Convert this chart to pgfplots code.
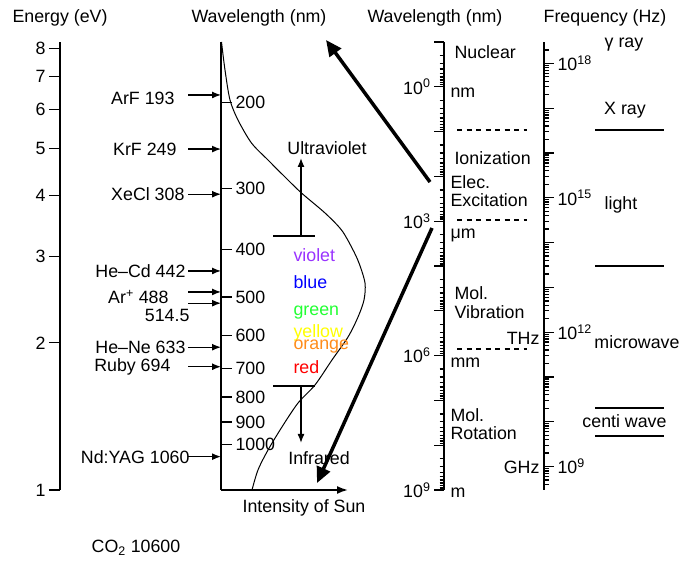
\documentclass[border=0pt]{standalone}
\usepackage{fontspec}
\setmainfont{Liberation Sans}
\usepackage{pgfplots}
\pgfplotsset{compat=1.18}
\usetikzlibrary{arrows.meta}
\newcommand{\fs}{\fontsize{17.8}{18}\selectfont}
\definecolor{cviolet}{HTML}{9933FF}
\definecolor{cblue}{HTML}{0000FF}
\definecolor{cgreen}{HTML}{22FF33}
\definecolor{cyellow}{HTML}{FFFF00}
\definecolor{corange}{HTML}{FF8C1A}
\definecolor{cred}{HTML}{FF0000}
\pgfplotsset{
 vscale/.style={
  scale only axis, height=448pt, width=1pt,
  axis x line=none, clip=false,
  every tick/.style={black, line width=1.3pt},
  tick label style={font=\fs},
  major tick length=11pt, minor tick length=5pt,
  font=\fs,
 },
 noarrow/.style={y axis line style={-, line width=1.8pt}},
}
\begin{document}
\begin{tikzpicture}[font=\fs]
\path[use as bounding box] (0,0) rectangle (681pt,562pt);
% ---------------- main axis: energy (x in px, y in eV) ----------------
\begin{axis}[vscale, at={(60pt,72pt)}, anchor=south west, width=621pt,
  xmin=60, xmax=681, ymode=log, ymin=1, ymax=8.245,
  axis y line=left, tick align=outside, noarrow,
  ytick={1,2,3,4,5,6,7,8}, yticklabels={1,2,3,4,5,6,7,8}, minor ytick={}]
% titles
\node at (axis cs:60,9.23) {Energy (eV)};
\node at (axis cs:259,9.23) {Wavelength (nm)};
\node at (axis cs:435,9.23) {Wavelength (nm)};
\node at (axis cs:605,9.23) {Frequency (Hz)};
% intensity of sun axis
\addplot[black, line width=1.8pt, -{Latex[length=11pt,width=8pt]}] coordinates {(221,1) (348,1)};
\node at (axis cs:304,0.919) {Intensity of Sun};
% sun spectrum
\addplot[black, line width=1pt, smooth, tension=0.5] coordinates {
(221.5,8.245) (225,7.226) (230,6.275) (238,5.710) (251.5,5.124) (268,4.730)
(285,4.366) (301.5,4.049) (325,3.686) (341.5,3.402) (352,3.126) (359,2.912)
(365,2.650) (364,2.447) (358,2.258) (348,2.055) (332,1.845) (315,1.640)
(298,1.506) (282,1.346) (268,1.207) (258,1.099) (252,1.000)};
% laser lines
\foreach \e in {6.425,4.980,4.026,2.805,2.541,2.410,1.959,1.787,1.170}{
 \edef\tmp{\noexpand\addplot[black, line width=1.3pt, -{Latex[length=9pt,width=7pt]}] coordinates {(188,\e) (221,\e)};}
 \tmp
}
\node[anchor=east] at (axis cs:178,6.334) {ArF 193};
\node[anchor=east] at (axis cs:180,4.98) {KrF 249};
\node[anchor=east] at (axis cs:188,4.026) {XeCl 308};
\node[anchor=east] at (axis cs:189,2.805) {He--Cd 442};
\node[anchor=east] at (axis cs:172,2.482) {Ar\textsuperscript{+} 488};
\node[anchor=east] at (axis cs:193,2.280) {514.5};
\node[anchor=east] at (axis cs:189,1.959) {He--Ne 633};
\node[anchor=east] at (axis cs:174,1.787) {Ruby 694};
\node[anchor=east] at (axis cs:193,1.170) {Nd:YAG 1060};
\node at (axis cs:136,0.761) {CO\textsubscript{2} 10600};
% ultraviolet / infrared markers
\addplot[black, line width=1.3pt] coordinates {(273,3.307) (315,3.307)};
\addplot[black, line width=1.3pt, -{Latex[length=9pt,width=7pt]}] coordinates {(301,3.307) (301,4.775)};
\node at (axis cs:327,5.005) {Ultraviolet};
\addplot[black, line width=1.3pt] coordinates {(273,1.632) (315,1.632)};
\addplot[black, line width=1.3pt, -{Latex[length=9pt,width=7pt]}] coordinates {(301,1.632) (301,1.248)};
\node at (axis cs:319,1.163) {Infrared};
% colours
\node[anchor=west, text=cviolet] at (axis cs:290,3.024) {violet};
\node[anchor=west, text=cblue] at (axis cs:290,2.664) {blue};
\node[anchor=west, text=cgreen] at (axis cs:290,2.301) {green};
\node[anchor=west, text=cyellow] at (axis cs:290,2.095) {yellow};
\node[anchor=west, text=corange] at (axis cs:290,1.961) {orange};
\node[anchor=west, text=cred] at (axis cs:290,1.785) {red};
% big arrows
\addplot[black, line width=3.5pt, -{Triangle[length=16pt,width=14pt]}] coordinates {(430,4.264) (326,8.325)};
\addplot[black, line width=3.5pt, -{Triangle[length=16pt,width=14pt]}] coordinates {(432,3.434) (317,1.033)};
% log wavelength annotations
\node[anchor=west] at (axis cs:451,7.866) {Nuclear};
\node[anchor=west] at (axis cs:447,6.484) {nm};
\node[anchor=west] at (axis cs:451,4.775) {Ionization};
\node[anchor=west] at (axis cs:447,4.264) {Elec.};
\node[anchor=west] at (axis cs:447,3.918) {Excitation};
\node[anchor=west] at (axis cs:447,3.322) {μm};
\node[anchor=west] at (axis cs:451,2.528) {Mol.};
\node[anchor=west] at (axis cs:451,2.312) {Vibration};
\node[anchor=east] at (axis cs:543,2.046) {THz};
\node[anchor=west] at (axis cs:447,1.819) {mm};
\node[anchor=west] at (axis cs:447,1.423) {Mol.};
\node[anchor=west] at (axis cs:447,1.308) {Rotation};
\node[anchor=east] at (axis cs:543,1.115) {GHz};
\node[anchor=west] at (axis cs:447,0.986) {m};
\foreach \e in {5.447,3.566,1.943}{
 \edef\tmp{\noexpand\addplot[black, line width=1.4pt, dash pattern=on 5pt off 4.5pt] coordinates {(457,\e) (527,\e)};}
 \tmp
}
% frequency annotations
\node at (axis cs:624,8.128) {γ ray};
\node at (axis cs:625,5.984) {X ray};
\node at (axis cs:621,3.826) {light};
\node at (axis cs:637,2.007) {microwave};
\node at (axis cs:624.5,1.384) {centi wave};
\foreach \e in {5.447,2.871,1.472,1.290}{
 \edef\tmp{\noexpand\addplot[black, line width=1.4pt] coordinates {(595,\e) (664,\e)};}
 \tmp
}
\end{axis}
% ---------------- wavelength (nm) axis ----------------
\begin{axis}[vscale, at={(221pt,72pt)}, anchor=south east,
  xmin=0, xmax=1, ymode=log, ymin=1, ymax=8.245,
  axis y line=right, tick align=outside, minor ytick={}, noarrow,
  ytick={6.2,4.13333,3.1,2.48,2.06667,1.77143,1.55,1.37778,1.24},
  yticklabels={200,300,400,500,600,700,800,900,1000}]
\end{axis}
% ---------------- log wavelength axis ----------------
\begin{axis}[vscale, at={(444pt,72pt)}, anchor=south west,
  xmin=0, xmax=1, ymode=log, y dir=reverse, ymin=0.1, ymax=1e9,
  axis y line=left, tick align=outside, major tick length=10pt, minor tick length=4.5pt, noarrow,
  ytick={1e-1,1e0,1e1,1e2,1e3,1e4,1e5,1e6,1e7,1e8,1e9},
  yticklabels={,10\textsuperscript{0},,,10\textsuperscript{3},,,10\textsuperscript{6},,,10\textsuperscript{9}},
  minor ytick={2e-1,3e-1,4e-1,5e-1,6e-1,7e-1,8e-1,9e-1,
   2e0,3e0,4e0,5e0,6e0,7e0,8e0,9e0,2e1,3e1,4e1,5e1,6e1,7e1,8e1,9e1,
   2e2,3e2,4e2,5e2,6e2,7e2,8e2,9e2,2e3,3e3,4e3,5e3,6e3,7e3,8e3,9e3,
   2e4,3e4,4e4,5e4,6e4,7e4,8e4,9e4,2e5,3e5,4e5,5e5,6e5,7e5,8e5,9e5,
   2e6,3e6,4e6,5e6,6e6,7e6,8e6,9e6,2e7,3e7,4e7,5e7,6e7,7e7,8e7,9e7,
   2e8,3e8,4e8,5e8,6e8,7e8,8e8,9e8}]
\end{axis}
% ---------------- frequency axis ----------------
\begin{axis}[vscale, at={(544pt,72pt)}, anchor=south east,
  xmin=0, xmax=1, ymode=log, ymin=3e8, ymax=3e18,
  axis y line=right, tick align=outside, major tick length=10pt, minor tick length=5pt, noarrow,
  ytick={1e9,1e10,1e11,1e12,1e13,1e14,1e15,1e16,1e17,1e18},
  yticklabels={10\textsuperscript{9},,,10\textsuperscript{12},,,10\textsuperscript{15},,,10\textsuperscript{18}},
  minor ytick={4e8,5e8,6e8,7e8,8e8,9e8,
   2e9,3e9,4e9,5e9,6e9,7e9,8e9,9e9,2e10,3e10,4e10,5e10,6e10,7e10,8e10,9e10,
   2e11,3e11,4e11,5e11,6e11,7e11,8e11,9e11,2e12,3e12,4e12,5e12,6e12,7e12,8e12,9e12,
   2e13,3e13,4e13,5e13,6e13,7e13,8e13,9e13,2e14,3e14,4e14,5e14,6e14,7e14,8e14,9e14,
   2e15,3e15,4e15,5e15,6e15,7e15,8e15,9e15,2e16,3e16,4e16,5e16,6e16,7e16,8e16,9e16,
   2e17,3e17,4e17,5e17,6e17,7e17,8e17,9e17,2e18}]
\end{axis}
\end{tikzpicture}
\end{document}
